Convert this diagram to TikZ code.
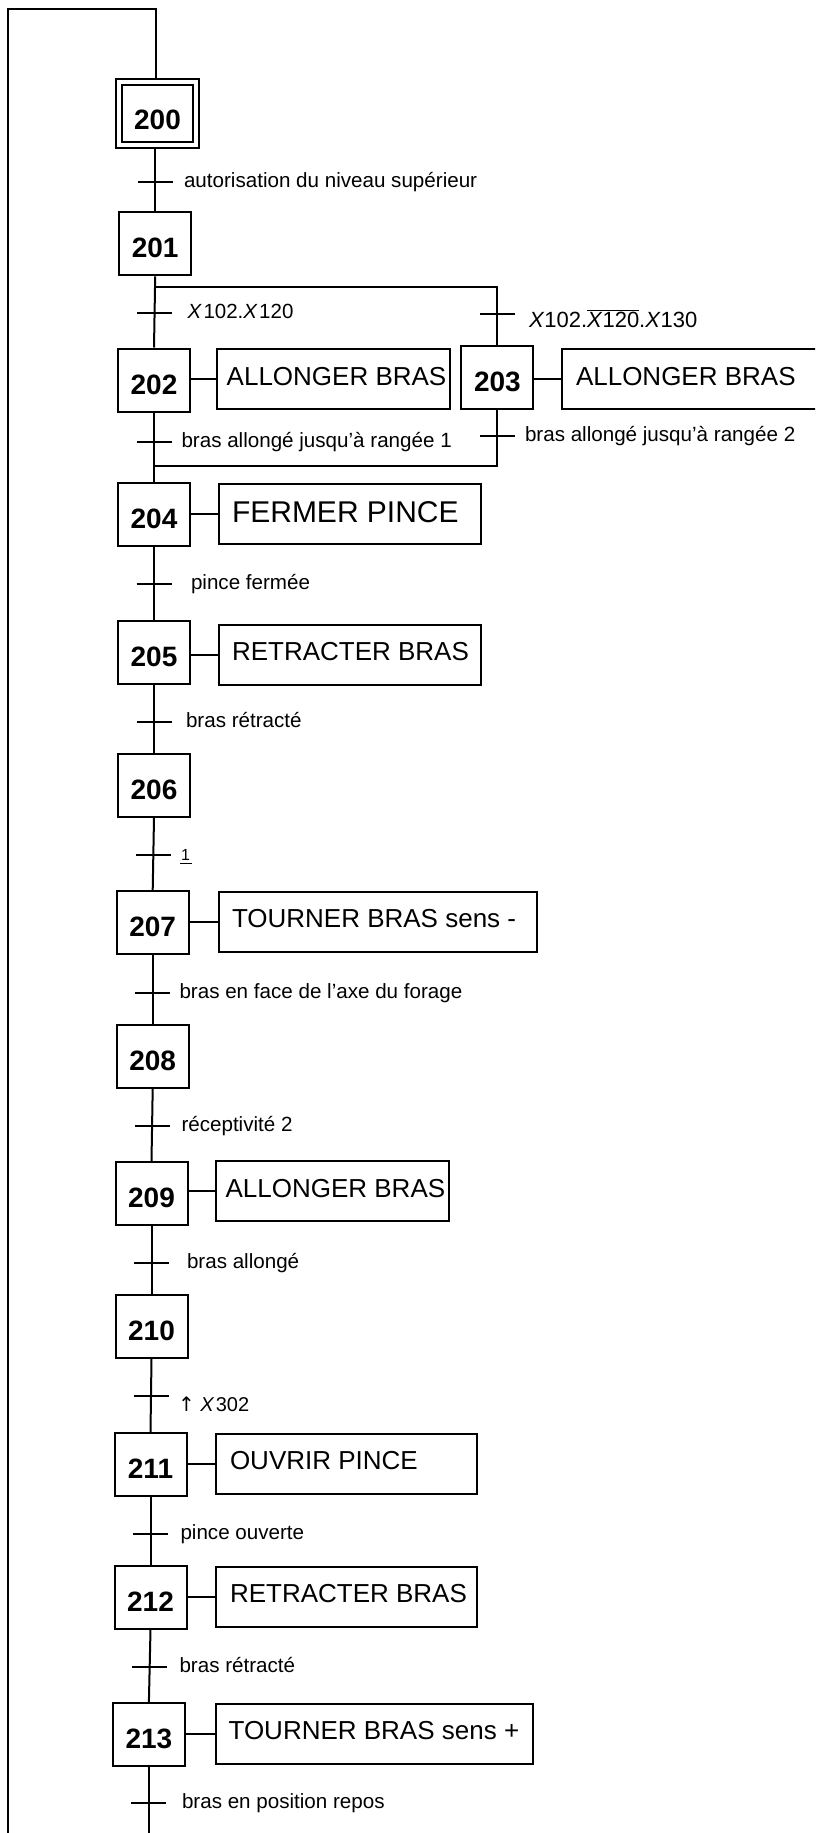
\documentclass[tikz,border=0pt]{standalone}
\usepackage{fontspec}
\setmainfont{Liberation Sans}
\newfontfamily\arrowfont{DejaVu Sans}
\usetikzlibrary{calc}
\newcommand{\fsz}[1]{\fontsize{#1}{#1}\selectfont}
\newcommand{\acttext}[2]{\makebox[#1][l]{#2}}
\begin{document}
\begin{tikzpicture}[x=1pt,y=-1pt,line width=2pt,
  stepbox/.style={draw,line width=2pt,minimum width=72pt,minimum height=63pt,inner sep=0pt,font=\fsz{28}\bfseries,text height=28pt,text depth=0pt},
  actbox/.style={draw,line width=2pt,anchor=west,minimum height=60pt,inner xsep=13pt,inner ysep=0pt,font=\fsz{26},text height=12pt,text depth=0pt},
  tickline/.style={line width=2pt},
  lab/.style={anchor=base west,inner sep=0pt,font=\fsz{20.6}},
]
\useasboundingbox (0,0) rectangle (815,1833);
\clip (0,0) rectangle (815,1833);

% steps
\node[stepbox,double,double distance=3.7pt,minimum width=77.3pt,minimum height=63pt,outer sep=3.85pt,text height=31pt] (s200) at (157.5,113.65) {200};
\node[stepbox] (s201) at (155.2,243.85) {201};
\node[stepbox] (s202) at (154,380) {202};
\node[stepbox] (s203) at (497.4,377.5) {203};
\node[stepbox] (s204) at (154,514.35) {204};
\node[stepbox] (s205) at (154,652.5) {205};
\node[stepbox] (s206) at (154,785) {206};
\node[stepbox] (s207) at (152.7,922.85) {207};
\node[stepbox] (s208) at (152.7,1056) {208};
\node[stepbox] (s209) at (151.5,1193.5) {209};
\node[stepbox] (s210) at (151.5,1326.5) {210};
\node[stepbox] (s211) at (150.5,1464.35) {211};
\node[stepbox] (s212) at (150.5,1597.15) {212};
\node[stepbox] (s213) at (148.9,1734.35) {213};

% actions
\node[actbox,inner xsep=10pt] (a202) at (215.7,379.2) {\acttext{213.3pt}{ALLONGER BRAS}};
\node[actbox,inner xsep=14pt] (a203) at (561,379) {\acttext{272pt}{ALLONGER BRAS}};
\node[actbox,font=\fsz{30},text height=18pt] (a204) at (218,513.5) {\acttext{236pt}{FERMER PINCE}};
\node[actbox] (a205) at (218,654.85) {\acttext{236pt}{RETRACTER BRAS}};
\node[actbox] (a207) at (218,921.85) {\acttext{292pt}{TOURNER BRAS sens -}};
\node[actbox,inner xsep=10pt] (a209) at (214.6,1191) {\acttext{213pt}{ALLONGER BRAS}};
\node[actbox,inner xsep=14pt] (a211) at (215,1463.5) {\acttext{233pt}{OUVRIR PINCE}};
\node[actbox,inner xsep=14pt] (a212) at (215,1596.85) {\acttext{233pt}{RETRACTER BRAS}};
\node[actbox] (a213) at (214.6,1733.5) {\acttext{291pt}{TOURNER BRAS sens +}};

\foreach \s in {202,203,204,205,207,209,211,212,213}
  \draw (a\s.west) -- (a\s.west -| s\s.east);

% frame / loop
\coordinate (tl) at (7.5,9.3);
\coordinate (tm) at (155.5,9.3);
\coordinate (bl) at (7.5,1840);
\coordinate (bm) at (148.9,1840);
\draw (bl) -- (tl) -- (tm) -- (tm |- s200.north);
\draw (s213.south) -- (bm);

% main sequence
\draw (s201.north |- s200.south) -- (s201.north);
\draw (s201.south) -- (s202.north);
\coordinate (div) at (155,287.3);
\draw (div) -| (s203.north);
\coordinate (conv) at (154,465.7);
\draw (s203.south) |- (conv);
\draw (s202.south) -- (s204.north);
\draw (s204.south) -- (s205.north);
\draw (s205.south) -- (s206.north);
\draw (s206.south) -- (s207.north);
\draw (s207.south) -- (s208.north);
\draw (s208.south) -- (s209.north);
\draw (s209.south) -- (s210.north);
\draw (s210.south) -- (s211.north);
\draw (s211.south) -- (s212.north);
\draw (s212.south) -- (s213.north);

% transitions
\coordinate (t1) at (155.5,182.3);
\coordinate (t2a) at (154.8,313.3);
\coordinate (t2b) at (497.4,314);
\coordinate (t3a) at (154,441.7);
\coordinate (t3b) at (497.4,435.7);
\coordinate (t4) at (154,584.3);
\coordinate (t5) at (154,722.3);
\coordinate (t6) at (153.4,855);
\coordinate (t7) at (152.7,992.7);
\coordinate (t8) at (152.1,1126);
\coordinate (t9) at (151.5,1263.3);
\coordinate (t10) at (151,1396);
\coordinate (t11) at (150.5,1534);
\coordinate (t12) at (149.7,1666.7);
\coordinate (t13) at (148.9,1803.3);
\foreach \t in {t1,t2a,t2b,t3a,t3b,t4,t5,t6,t7,t8,t9,t10,t11,t12,t13}
  \draw[tickline] ([xshift=-17.5pt]\t) -- ([xshift=17.5pt]\t);

% receptivities
\node[lab] (l1) at (183,187.6) {autorisation du niveau supérieur};
\node[lab,font=\fsz{20.5}] (l2a) at (186.7,318.3) {\textit{X}\kern1.5pt 102.\textit{X}\kern1.5pt 120};
\node[lab,font=\fsz{22}] (l2b) at (528,327.3) {\textit{X}102.$\overline{\hbox{\textit{X}120}}$.\textit{X}130};
\node[lab] (l3a) at (180.5,447) {bras allongé jusqu’à rangée 1};
\node[lab] (l3b) at (524,441) {bras allongé jusqu’à rangée 2};
\node[lab] (l4) at (190,589.6) {pince fermée};
\node[lab] (l5) at (185,727.6) {bras rétracté};
\node[lab,font=\fsz{16}] (l6) at (179,860) {\makebox[0pt][l]{\rule[-4.2pt]{11.5pt}{1.6pt}}\kern1pt 1};
\node[lab] (l7) at (178.5,998) {bras en face de l’axe du forage};
\node[lab] (l8) at (180.5,1131.3) {réceptivité 2};
\node[lab] (l9) at (186,1268.6) {bras allongé};
\node[lab,font=\fsz{20}] (l10) at (177,1411.7) {{\arrowfont ↑} \textit{X}\kern1.5pt 302};
\node[lab] (l11) at (179.5,1539.3) {pince ouverte};
\node[lab] (l12) at (178.5,1672) {bras rétracté};
\node[lab] (l13) at (181,1808.6) {bras en position repos};
\end{tikzpicture}
\end{document}
